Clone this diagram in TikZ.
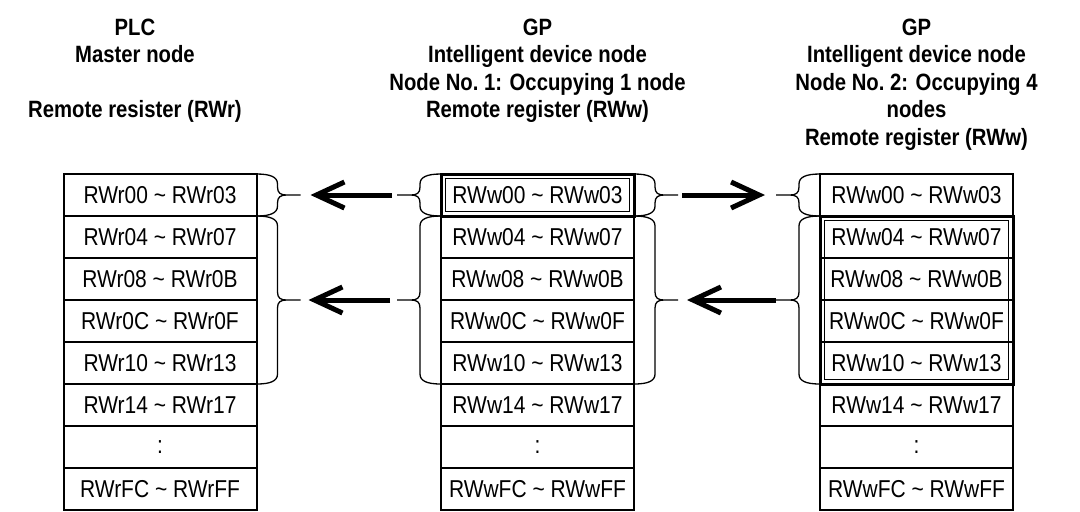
\documentclass[tikz,border=0pt]{standalone}
\usepackage{fontspec}
\setmainfont{Liberation Sans}[FakeStretch=0.86]
\usetikzlibrary{positioning,calc,arrows.meta}

\newcommand{\regrange}[2]{#1 \textasciitilde{} #2}

\begin{document}
\begin{tikzpicture}[
        x=0.5pt, y=-0.5pt,
        cell/.style={
            draw=black,
            line width=1pt,
            minimum width=96.5pt,
            minimum height=21pt,
            inner sep=0pt,
            outer sep=0pt,
            font=\fontsize{12.2pt}{14pt}\selectfont
        },
        head/.style={
            anchor=north,
            align=center,
            inner sep=0pt,
            font=\bfseries\fontsize{11.8pt}{13.75pt}\selectfont
        },
        outerframe/.style={line width=1.5pt},
        innerframe/.style={line width=0.6pt},
        regbrace/.style={
            line width=0.65pt,
            to path={
                let \p1=(\tikztostart), \p2=(\tikztotarget), \p3=($(\p1)!0.5!(\p2)$) in
                (\p1) .. controls ({\x1+(#1)*7pt},\y1) and ({\x1+(#1)*10.5pt},{\y1-1.5pt}) .. ({\x1+(#1)*10.5pt},{\y1-5pt})
                -- ({\x1+(#1)*10.5pt},{\y3+4pt})
                .. controls ({\x1+(#1)*10.5pt},{\y3+1pt}) and ({\x1+(#1)*12pt},\y3) .. ({\x1+(#1)*15pt},\y3)
                -- ({\x1+(#1)*22pt},\y3)
                ({\x1+(#1)*15pt},\y3) .. controls ({\x1+(#1)*12pt},\y3) and ({\x1+(#1)*10.5pt},{\y3-1pt}) .. ({\x1+(#1)*10.5pt},{\y3-4pt})
                -- ({\x1+(#1)*10.5pt},{\y2+5pt})
                .. controls ({\x1+(#1)*10.5pt},{\y2+1.5pt}) and ({\x1+(#1)*7pt},\y2) .. (\p2)
            }
        },
        flow/.style={
            line width=2.5pt,
            -{Straight Barb[length=14pt,width=13pt]}
        }
    ]

    \useasboundingbox (0,0) rectangle (1080,511);

    % Titles
    \node[head] (hplc) at (135,18.6) {PLC\\Master node\\[13.75pt]Remote resister (RWr)};
    \node[head] (hgp1) at (537.5,18.6) {GP\\Intelligent device node\\Node No.~1: Occupying 1 node\\Remote register (RWw)};
    \node[head] (hgp2) at (916.5,18.6) {GP\\Intelligent device node\\Node No.~2: Occupying 4\\nodes\\Remote register (RWw)};

    % PLC: RWr
    \node[cell] (L0) at (160,195) {\regrange{RWr00}{RWr03}};
    \node[cell, below=0pt of L0] (L1) {\regrange{RWr04}{RWr07}};
    \node[cell, below=0pt of L1] (L2) {\regrange{RWr08}{RWr0B}};
    \node[cell, below=0pt of L2] (L3) {\regrange{RWr0C}{RWr0F}};
    \node[cell, below=0pt of L3] (L4) {\regrange{RWr10}{RWr13}};
    \node[cell, below=0pt of L4] (L5) {\regrange{RWr14}{RWr17}};
    \node[cell, below=0pt of L5] (L6) {:};
    \node[cell, below=0pt of L6] (L7) {\regrange{RWrFC}{RWrFF}};

    % GP node 1: RWw
    \node[cell] (M0) at (537.5,195) {\regrange{RWw00}{RWw03}};
    \node[cell, below=0pt of M0] (M1) {\regrange{RWw04}{RWw07}};
    \node[cell, below=0pt of M1] (M2) {\regrange{RWw08}{RWw0B}};
    \node[cell, below=0pt of M2] (M3) {\regrange{RWw0C}{RWw0F}};
    \node[cell, below=0pt of M3] (M4) {\regrange{RWw10}{RWw13}};
    \node[cell, below=0pt of M4] (M5) {\regrange{RWw14}{RWw17}};
    \node[cell, below=0pt of M5] (M6) {:};
    \node[cell, below=0pt of M6] (M7) {\regrange{RWwFC}{RWwFF}};

    % GP node 2: RWw
    \node[cell] (R0) at (916.5,195) {\regrange{RWw00}{RWw03}};
    \node[cell, below=0pt of R0] (R1) {\regrange{RWw04}{RWw07}};
    \node[cell, below=0pt of R1] (R2) {\regrange{RWw08}{RWw0B}};
    \node[cell, below=0pt of R2] (R3) {\regrange{RWw0C}{RWw0F}};
    \node[cell, below=0pt of R3] (R4) {\regrange{RWw10}{RWw13}};
    \node[cell, below=0pt of R4] (R5) {\regrange{RWw14}{RWw17}};
    \node[cell, below=0pt of R5] (R6) {:};
    \node[cell, below=0pt of R6] (R7) {\regrange{RWwFC}{RWwFF}};

    % Double frames
    \draw[outerframe] (M0.north west) rectangle (M0.south east);
    \draw[innerframe] ([shift={(2.2pt,-2.2pt)}]M0.north west) rectangle ([shift={(-2.2pt,2.2pt)}]M0.south east);
    \draw[outerframe] (R1.north west) rectangle (R4.south east);
    \draw[innerframe] ([shift={(2.2pt,-2.2pt)}]R1.north west) rectangle ([shift={(-2.2pt,2.2pt)}]R4.south east);

    % Braces
    \draw[regbrace=1] (L0.north east) to (L0.south east);
    \draw[regbrace=1] (L1.north east) to (L4.south east);
    \draw[regbrace=-1] (M0.north west) to (M0.south west);
    \draw[regbrace=-1] (M1.north west) to (M4.south west);
    \draw[regbrace=1] (M0.north east) to (M0.south east);
    \draw[regbrace=1] (M1.north east) to (M4.south east);
    \draw[regbrace=-1] (R0.north west) to (R0.south west);
    \draw[regbrace=-1] (R1.north west) to (R4.south west);

    % Brace tips
    \coordinate (tL0) at ([xshift=22pt]L0.east);
    \coordinate (tL1) at ([xshift=22pt]L2.south east);
    \coordinate (tM0w) at ([xshift=-22pt]M0.west);
    \coordinate (tM1w) at ([xshift=-22pt]M2.south west);
    \coordinate (tM0e) at ([xshift=22pt]M0.east);
    \coordinate (tM1e) at ([xshift=22pt]M2.south east);
    \coordinate (tR0) at ([xshift=-22pt]R0.west);
    \coordinate (tR1) at ([xshift=-22pt]R2.south west);

    % Data flow
    \draw[flow, shorten <=2.5pt, shorten >=5pt] (tM0w) -- (tL0);
    \draw[flow, shorten <=3.5pt, shorten >=4pt] (tM1w) -- (tL1);
    \draw[flow, shorten <=2pt, shorten >=5.5pt] (tM0e) -- (tR0);
    \draw[flow, shorten <=0pt, shorten >=4.5pt] (tR1) -- (tM1e);

\end{tikzpicture}
\end{document}
